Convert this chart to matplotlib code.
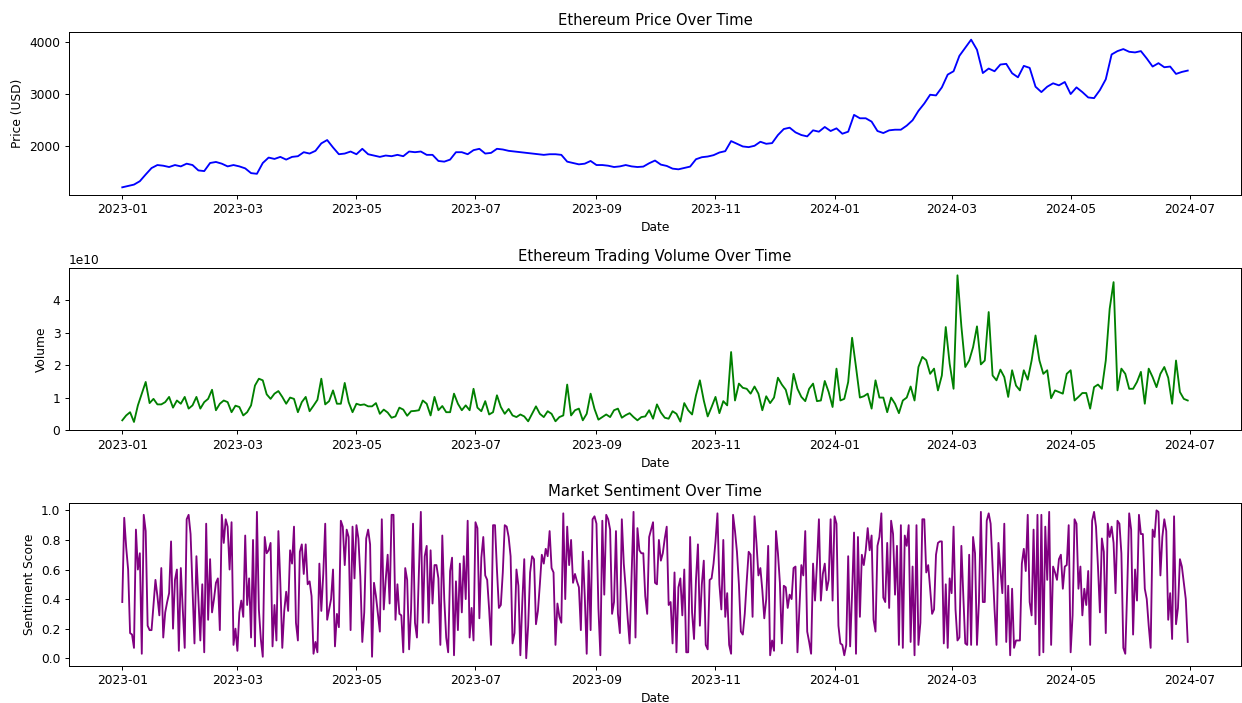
import numpy as np
import pandas as pd
import matplotlib
matplotlib.use("Agg")
import matplotlib.pyplot as plt

# ---- data ----
price_start, price_end = "2023-01-01", "2024-06-30"
price_usd = [
    1210,1236,1262,1327,1456,1579,1637,1624,1599,1637,
    1611,1663,1637,1534,1521,1676,1696,1663,1611,1637,
    1611,1573,1482,1469,1676,1780,1754,1793,1741,1793,
    1806,1883,1857,1909,2052,2116,1974,1844,1857,1896,
    1844,1948,1844,1819,1793,1819,1806,1832,1806,1896,
    1883,1896,1832,1832,1715,1702,1741,1883,1883,1844,
    1922,1948,1857,1870,1948,1935,1909,1896,1883,1870,
    1857,1844,1832,1844,1844,1832,1702,1676,1650,1663,
    1715,1637,1637,1624,1599,1611,1637,1611,1599,
    1607,1671,1723,1645,1620,1568,1555,1581,1607,1748,
    1787,1800,1826,1877,1903,2096,2044,1993,1980,2006,
    2083,2044,2057,2212,2327,2353,2263,2212,2186,2302,
    2276,2366,2289,2340,2237,2276,2598,2533,2533,2469,
    2289,2250,2302,2314,2314,2392,2495,2675,2816,2984,
    2971,3125,3370,3434,3730,3885,4039,3846,3400,3486,
    3434,3563,3576,3396,3318,3537,3499,3138,3035,3138,
    3203,3164,3228,2997,3125,3035,2932,2919,3074,3280,
    3756,3820,3859,3807,3795,3820,3679,3524,3589,3511,
    3524,3383,3421,3447,
]

volume_e10 = [
    .31,.46,.56,.26,.77,1.13,1.49,.84,.97,.80,
    .80,.87,1.03,.70,.92,.82,1.03,.67,.77,1.03,
    .67,.87,.97,1.25,.62,.82,.92,.87,.56,.76,
    .72,.46,.56,.77,1.38,1.59,1.54,1.11,.97,1.13,
    1.21,1.03,.82,1.01,.97,.56,.87,1.03,.59,.76,
    .94,1.59,.80,.90,1.23,.82,.82,1.46,.87,.56,
    .82,.78,.80,.74,.74,.84,.51,.64,.55,.39,
    .43,.70,.64,.45,.59,.60,.62,.92,.82,.46,
    1.03,.62,.75,.56,.56,1.13,.82,.62,.77,.62,
    1.28,.70,.59,.90,.49,.56,1.08,.72,.51,.66,
    .46,.41,.49,.43,.28,.51,.74,.51,.41,.59,
    .51,.28,.41,.46,1.41,.46,.62,.67,.31,.51,
    1.13,.66,.33,.41,.49,.41,.62,.67,.39,.47,
    .53,.41,.31,
    .41,.43,.62,.36,.80,.55,.39,.36,.59,.51,
    .27,.84,.62,.49,1.08,1.54,.92,.43,.72,1.03,
    .53,.90,.77,2.41,.92,1.44,1.31,1.28,1.13,1.35,
    1.13,.62,1.05,.84,1.01,1.62,1.41,1.25,.80,1.74,
    1.28,1.03,.90,1.28,1.44,.90,.92,1.52,1.18,.72,
    1.90,.92,.97,1.49,2.85,1.95,1.01,1.05,1.13,.67,
    1.54,1.01,1.01,.56,1.01,.82,.53,.92,1.01,1.35,
    .92,1.95,2.26,2.16,1.74,1.90,1.23,1.69,3.18,2.05,
    1.28,4.77,3.20,1.95,2.15,2.56,3.20,2.03,2.15,3.64,
    1.69,1.54,1.87,1.64,1.03,1.85,1.38,1.23,1.85,1.56,
    2.15,2.92,2.15,1.74,1.85,.99,1.23,1.18,1.13,1.74,
    1.85,.92,1.03,1.15,1.15,.67,1.33,1.41,1.28,2.15,
    3.74,4.56,1.23,1.90,1.74,1.28,1.28,1.49,1.80,.82,
    1.90,1.64,1.33,1.74,1.95,1.62,.82,2.15,1.18,.97,
    .92,
]

sentiment = [
    .38,.95,.75,.60,.17,.16,.07,.87,.60,.71,
    .03,.97,.86,.22,.19,.19,.36,.53,.42,.29,
    .61,.14,.31,.38,.44,.79,.20,.53,.60,.05,
    .61,.33,.07,.94,.97,.84,.47,.10,.69,.40,
    .12,.50,.04,.91,.26,.67,.31,.40,.51,.54,
    .19,.97,.78,.94,.89,.60,.92,.09,.20,.05,
    .31,.39,.28,.83,.36,.54,.14,.80,.08,.99,
    .33,.13,.01,.82,.71,.73,.78,.08,.36,.12,
    .86,.51,.07,.32,.45,.32,.73,.64,.89,.24,
    .12,.72,.77,.57,.77,.50,.52,.42,.03,.11,
    .04,.64,.32,.57,.91,.26,.33,.40,.60,.08,
    .30,.21,.93,.89,.63,.87,.82,.19,.89,.54,
    .90,.81,.55,.11,.31,.81,.87,.77,.01,.51,
    .42,.30,.18,
    .94,.33,.53,.70,.37,.97,.97,.26,.50,.30,
    .29,.04,.61,.53,.06,.33,.91,.24,.14,.58,
    .99,.24,.69,.76,.24,.73,.37,.63,.63,.54,
    .09,.83,.40,.14,.04,.59,.68,.02,.52,.19,
    .64,.31,.69,.40,.93,.14,.34,.12,.92,.88,
    .27,.68,.82,.56,.53,.33,.09,.90,.90,.60,
    .34,.36,.58,.90,.89,.82,.69,.10,.17,.60,
    .49,.02,.38,.67,.00,.22,.58,.69,.67,.23,
    .32,.50,.70,.64,.74,.69,.86,.61,.58,.09,
    .37,.28,.24,.98,.40,.89,.63,.80,.51,.57,
    .52,.48,.19,.72,.42,.03,.66,.19,.94,.96,
    .91,.34,.02,.93,.43,.97,.94,.87,.30,.38,
    .86,.30,.17,.94,.64,.47,.27,.10,.56,.99,
    .14,.88,.73,.71,.71,.42,.30,
    .82,.87,.92,.51,.50,.80,.66,.71,.81,.89,
    .36,.38,.10,.58,.04,.48,.54,.29,.60,.04,
    .04,.82,.31,.13,.53,.77,.22,.50,.66,.09,
    .06,.53,.54,.64,.79,.98,.50,.33,.80,.28,
    .44,.09,.03,.97,.86,.72,.50,.18,.16,.30,
    .52,.72,.70,.28,.96,.78,.56,.61,.46,.27,
    .40,.76,.02,.12,.05,.86,.71,.51,.10,.49,
    .48,.34,.43,.40,.61,.62,.04,.33,.63,.56,
    .86,.18,.11,.03,.64,.39,.64,.94,.39,.57,
    .64,.46,.53,.94,.39,.96,.91,.22,.10,.09,
    .02,.09,.69,.08,.44,.85,.03,.82,.28,.70,
    .63,.73,.88,.73,.83,.26,.18,.76,.82,.98,
    .41,.38,.78,.34,.93,.84,.43,.76,.09,.90,
    .07,.83,.76,.90,.11,.62,.02,.90,
    .09,.24,.94,.94,.58,.63,.47,.30,.33,.70,
    .78,.79,.79,.10,.50,.07,.54,.44,.89,.33,
    .12,.14,.76,.42,.10,.09,.70,.09,.82,.71,
    .09,.38,.99,.38,.38,.93,.98,.91,.62,.33,
    .09,.78,.60,.44,.91,.11,.49,.02,.47,.07,
    .12,.12,.12,.64,.74,.59,.97,.38,.29,.87,
    .23,.97,.02,.97,.04,.89,.53,.99,.09,.62,
    .58,.53,.67,.70,.47,.62,.63,.90,.04,.29,
    .94,.91,.47,.62,.29,.47,.36,.59,.09,.93,
    .99,.89,.62,.31,.81,.72,.17,.91,.82,.89,
    .78,.44,.93,.91,.71,.07,.03,.47,.98,.87,
    .16,.60,.39,.97,.84,.84,.47,.40,.22,.07,
    .87,.82,1.00,.99,.56,.82,.94,.86,.26,.44,
    .13,.96,.23,.34,.67,.62,.51,.40,.11,
]
sentiment_ticks = [0.0, 0.2, 0.4, 0.6, 0.8, 1.0]

price_dates = pd.date_range(price_start, price_end, periods=len(price_usd))
volume_dates = pd.date_range(price_start, price_end, periods=len(volume_e10))
sentiment_dates = pd.date_range(price_start, price_end, periods=len(sentiment))
volume = np.array(volume_e10) * 1e10

# ---- figure (14in wide figure rendered down to 1242 px) ----
W, H = 1242, 703
DPI = W / 14.0
fig = plt.figure(figsize=(W / DPI, H / DPI), dpi=DPI)

def box(top, bottom, left=69, right=1241):
    return [left / W, 1 - bottom / H, (right - left) / W, (bottom - top) / H]

ax1 = fig.add_axes(box(32.3, 194.7))
ax2 = fig.add_axes(box(268.0, 430.4))
ax3 = fig.add_axes(box(503.0, 665.6))

ax1.plot(price_dates, price_usd, color="blue", linewidth=1.5)
ax1.set_title("Ethereum Price Over Time")
ax1.set_xlabel("Date")
ax1.set_ylabel("Price (USD)")

ax2.plot(volume_dates, volume, color="green", linewidth=1.5)
ax2.set_ylim(bottom=0)
ax2.set_title("Ethereum Trading Volume Over Time")
ax2.set_xlabel("Date")
ax2.set_ylabel("Volume")

ax3.plot(sentiment_dates, sentiment, color="purple", linewidth=1.5)
ax3.set_yticks(sentiment_ticks)
ax3.set_title("Market Sentiment Over Time")
ax3.set_xlabel("Date")
ax3.set_ylabel("Sentiment Score")

fig.savefig("out.png", dpi=DPI)
